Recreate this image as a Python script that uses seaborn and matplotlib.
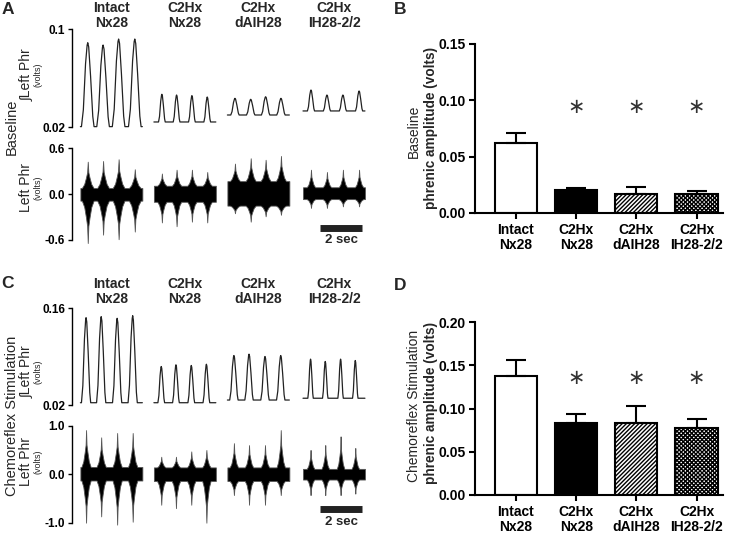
import numpy as np
import pandas as pd
import matplotlib
matplotlib.use('Agg')
import matplotlib.pyplot as plt
import matplotlib.transforms as mtransforms
import seaborn as sns

sns.set_theme(style='ticks')
plt.rcParams['font.family'] = ['Liberation Sans', 'DejaVu Sans']
plt.rcParams['hatch.linewidth'] = 1.0

# Groups
groups = ['Intact\nNx28', 'C2Hx\nNx28', 'C2Hx\ndAIH28', 'C2Hx\nIH28-2/2']

# Bar data (volts): mean and SEM
base_mean = [0.0625, 0.0202, 0.0172, 0.0172]
base_sem = [0.0081, 0.0023, 0.0059, 0.0024]
chemo_mean = [0.138, 0.0835, 0.0835, 0.077]
chemo_sem = [0.0175, 0.0100, 0.0195, 0.0103]

# Example traces - Baseline (burst times in s from trace start)
base_times = [[0.35, 1.08, 1.82, 2.59], [0.38, 1.08, 1.81, 2.54],
              [0.36, 1.11, 1.82, 2.55], [0.38, 1.14, 1.90, 2.67]]
base_int_floor = [0.0203, 0.0241, 0.0298, 0.0331]
base_int_peaks = [[0.0888, 0.0869, 0.0918, 0.0918], [0.0467, 0.0461, 0.0456, 0.0445],
                  [0.0434, 0.0426, 0.0447, 0.0434], [0.0502, 0.0461, 0.0461, 0.0494]]
base_int_hw = [0.30, 0.16, 0.20, 0.17]
base_raw_band = [(0.08, -0.085), (0.11, -0.10), (0.17, -0.15), (0.09, -0.065)]
base_raw_up = [[0.425, 0.434, 0.457, 0.326], [0.27, 0.32, 0.32, 0.29],
               [0.40, 0.47, 0.45, 0.50], [0.32, 0.29, 0.32, 0.32]]
base_raw_dn = [[-0.64, -0.53, -0.59, -0.49], [-0.37, -0.42, -0.36, -0.37],
               [-0.25, -0.36, -0.29, -0.27], [-0.18, -0.18, -0.16, -0.16]]

# Example traces - Chemoreflex stimulation
chemo_times = [[0.27, 0.99, 1.75, 2.49], [0.35, 1.05, 1.78, 2.50],
               [0.31, 1.03, 1.79, 2.54], [0.36, 1.06, 1.79, 2.49]]
chemo_int_floor = [0.0233, 0.0233, 0.0272, 0.0298]
chemo_int_peaks = [[0.1464, 0.1479, 0.1455, 0.1493], [0.0757, 0.0782, 0.0772, 0.0790],
                   [0.0916, 0.0936, 0.0902, 0.0916], [0.0864, 0.0830, 0.0864, 0.0844]]
chemo_int_hw = [0.22, 0.16, 0.20, 0.13]
chemo_raw_band = [(0.15, -0.13), (0.14, -0.14), (0.14, -0.14), (0.11, -0.11)]
chemo_raw_up = [[0.91, 0.76, 0.85, 0.85], [0.36, 0.36, 0.47, 0.50],
                [0.64, 0.60, 0.60, 0.91], [0.50, 0.60, 0.78, 0.54]]
chemo_raw_dn = [[-1.0, -0.87, -1.04, -0.98], [-0.63, -0.70, -0.63, -1.0],
                [-0.43, -0.63, -0.63, -0.43], [-0.43, -0.43, -0.43, -0.40]]

# burst shape templates (fraction of half-width, fraction of height)
int_shape_t = [-1.0, -0.7, -0.35, -0.1, 0.0, 0.15, 0.45, 0.8, 1.0]
int_shape_h = [0.0, 0.2, 0.75, 0.97, 1.0, 0.95, 0.6, 0.12, 0.0]
raw_shape_t = [-1.0, -0.6, -0.3, -0.1, 0.0, 0.1, 0.3, 0.6, 1.0]
raw_shape_h = [0.0, 0.15, 0.4, 0.6, 1.0, 0.6, 0.4, 0.15, 0.0]

trace_x0 = [0.4, 3.9, 7.4, 11.0]
trace_len = 2.95
scale_sec = 2

W, H = 740, 533
fig = plt.figure(figsize=(W / 100, H / 100), dpi=100)


def add_ax(left, top, right, bottom):
    return fig.add_axes([left / W, 1 - bottom / H, (right - left) / W, (bottom - top) / H])


def int_trace(times, peaks, floor, hw):
    t, y = [0.0], [floor]
    for tc, pk in zip(times, peaks):
        for dt, h in zip(int_shape_t, int_shape_h):
            t.append(tc + dt * hw)
            y.append(floor + (pk - floor) * h)
    t.append(trace_len)
    y.append(floor)
    return np.array(t), np.array(y)


def raw_trace(times, ups, dns, band, hw):
    t, hi, lo = [0.0], [band[0]], [band[1]]
    for tc, up, dn in zip(times, ups, dns):
        for dt, h in zip(raw_shape_t, raw_shape_h):
            t.append(tc + dt * hw)
            hi.append(band[0] + (up - band[0]) * h)
            lo.append(band[1] + (dn - band[1]) * h)
    t.append(trace_len)
    hi.append(band[0])
    lo.append(band[1])
    return np.array(t), np.array(hi), np.array(lo)


def style_trace_ax(ax, ylim, ticks, labels):
    for s in ['top', 'right', 'bottom']:
        ax.spines[s].set_visible(False)
    ax.spines['left'].set_linewidth(1)
    ax.spines['left'].set_color('black')
    ax.set_xlim(0, 298 / 21)
    ax.set_ylim(*ylim)
    ax.set_xticks([])
    ax.set_yticks(ticks)
    ax.set_yticklabels(labels, fontweight='bold', fontsize=8.5)
    ax.tick_params(axis='y', direction='out', length=3, width=1, pad=2, colors='black')
    ax.patch.set_alpha(0)


def trace_panel(top_int, bot_int, top_raw, bot_raw, int_ylim, int_ticks, int_labels,
                raw_ylim, raw_ticks, raw_labels, times, floors, peaks, int_hw,
                bands, ups, dns, raw_hw, title_y, bar_y, sec_y):
    ax_i = add_ax(72, top_int, 370, bot_int)
    ax_r = add_ax(72, top_raw, 370, bot_raw)
    style_trace_ax(ax_i, int_ylim, int_ticks, int_labels)
    style_trace_ax(ax_r, raw_ylim, raw_ticks, raw_labels)
    trans = mtransforms.blended_transform_factory(ax_i.transData, ax_i.transAxes)
    for k in range(4):
        t, y = int_trace(times[k], peaks[k], floors[k], int_hw[k])
        ax_i.plot(t + trace_x0[k], y, color='#222222', lw=0.9, clip_on=False)
        t, hi, lo = raw_trace(times[k], ups[k], dns[k], bands[k], raw_hw[k])
        ax_r.fill_between(t + trace_x0[k], lo, hi, color='black', edgecolor='#555555',
                          lw=0.6, clip_on=False)
        ax_i.text(trace_x0[k] + trace_len / 2, title_y, groups[k], transform=trans,
                  ha='center', va='center', fontsize=10, fontweight='bold', linespacing=1.1)
    # 2 sec scale bar
    x_bar = (320 - 72) / 21
    ax_r.plot([x_bar, x_bar + scale_sec], [bar_y, bar_y], color='#222222', lw=5,
              solid_capstyle='butt', clip_on=False)
    ax_r.text(x_bar + scale_sec / 2, sec_y, '%d sec' % scale_sec, ha='center', va='center',
              fontsize=9.5, fontweight='bold')
    return ax_i, ax_r


# Panel A
trace_panel(29, 127, 148.3, 240, (0.02, 0.1), [0.02, 0.1], ['0.02', '0.1'],
            (-0.6, 0.6), [-0.6, 0.0, 0.6], ['-0.6', '0.0', '0.6'],
            base_times, base_int_floor, base_int_peaks, base_int_hw,
            base_raw_band, base_raw_up, base_raw_dn, [0.28, 0.22, 0.24, 0.2],
            1.135, -0.44, -0.6)

# Panel C
trace_panel(308.3, 405, 425.7, 522.7, (0.02, 0.16), [0.02, 0.16], ['0.02', '0.16'],
            (-1.0, 1.0), [-1.0, 0.0, 1.0], ['-1.0', '0.0', '1.0'],
            chemo_times, chemo_int_floor, chemo_int_peaks, chemo_int_hw,
            chemo_raw_band, chemo_raw_up, chemo_raw_dn, [0.22, 0.2, 0.2, 0.18],
            1.17, -0.72, -0.985)


def ftext(x, y, s, **kw):
    fig.text(x / W, 1 - y / H, s, **kw)


# trace y labels
for yc_int, yc_raw, row_label, yc_row in [(75, 188, 'Baseline', 127),
                                          (372, 462, 'Chemoreflex Stimulation', 416)]:
    ftext(26, yc_int, '\u222bLeft Phr', rotation=90, ha='center', va='center', fontsize=10)
    ftext(38, yc_int, '(volts)', rotation=90, ha='center', va='center', fontsize=6.5)
    ftext(26, yc_raw, 'Left Phr', rotation=90, ha='center', va='center', fontsize=10)
    ftext(38, yc_raw, '(volts)', rotation=90, ha='center', va='center', fontsize=6.5)
    ftext(12, yc_row, row_label, rotation=90, ha='center', va='center', fontsize=10.5)


# Bar panels
fills = ['white', 'black', 'white', 'white']
hatches = [None, None, '////////', 'xxxxxxxx']


def bar_panel(top, bottom, means, sems, ymax, yticks, star_y, lab1, lab_y):
    ax = add_ax(475, top, 723, bottom)
    df = pd.DataFrame({'group': groups, 'amp': means})
    sns.barplot(data=df, x='group', y='amp', ax=ax, color='white', edgecolor='black',
                linewidth=1.5, width=0.7, errorbar=None)
    for p, fc, ht in zip(ax.patches, fills, hatches):
        p.set_facecolor(fc)
        p.set_edgecolor('black')
        if ht:
            p.set_hatch(ht)
    ax.errorbar(range(4), means, yerr=[np.zeros(4), sems], fmt='none', ecolor='black',
                elinewidth=1.5, capsize=7.5, capthick=1.5, zorder=1)
    for i in range(1, 4):
        ax.text(i, star_y, '\u2217', ha='center', va='center', fontsize=15,
                family='DejaVu Sans', color='#333333')
    ax.set_xlim(-0.68, 3.44)
    ax.set_ylim(0, ymax)
    ax.set_yticks(yticks)
    ax.set_yticklabels(['%.2f' % v for v in yticks], fontweight='bold', fontsize=10)
    ax.set_xticks(range(4))
    ax.set_xticklabels(groups, fontweight='bold', fontsize=10, linespacing=1.1)
    ax.set_xlabel('')
    ax.set_ylabel('')
    for s in ['top', 'right']:
        ax.spines[s].set_visible(False)
    for s in ['left', 'bottom']:
        ax.spines[s].set_linewidth(1.5)
        ax.spines[s].set_color('black')
    ax.tick_params(direction='out', length=4, width=1.5, colors='black', pad=3)
    ax.patch.set_alpha(0)
    ftext(414, lab_y, lab1, rotation=90, ha='center', va='center', fontsize=10)
    ftext(431, lab_y - 3, 'phrenic amplitude (volts)', rotation=90, ha='center',
          va='center', fontsize=9.8, fontweight='bold')
    return ax


bar_panel(44, 213, base_mean, base_sem, 0.15, [0.0, 0.05, 0.10, 0.15], 0.094,
          'Baseline', 131)
bar_panel(322, 495, chemo_mean, chemo_sem, 0.20, [0.0, 0.05, 0.10, 0.15, 0.20], 0.135,
          'Chemoreflex Stimulation', 406)

# panel letters
for x, y, s in [(8, 9, 'A'), (400, 10, 'B'), (8, 284, 'C'), (400, 286, 'D')]:
    ftext(x, y, s, ha='center', va='center', fontsize=12.5, fontweight='bold')

fig.savefig('out.png', dpi=100, facecolor='white')
